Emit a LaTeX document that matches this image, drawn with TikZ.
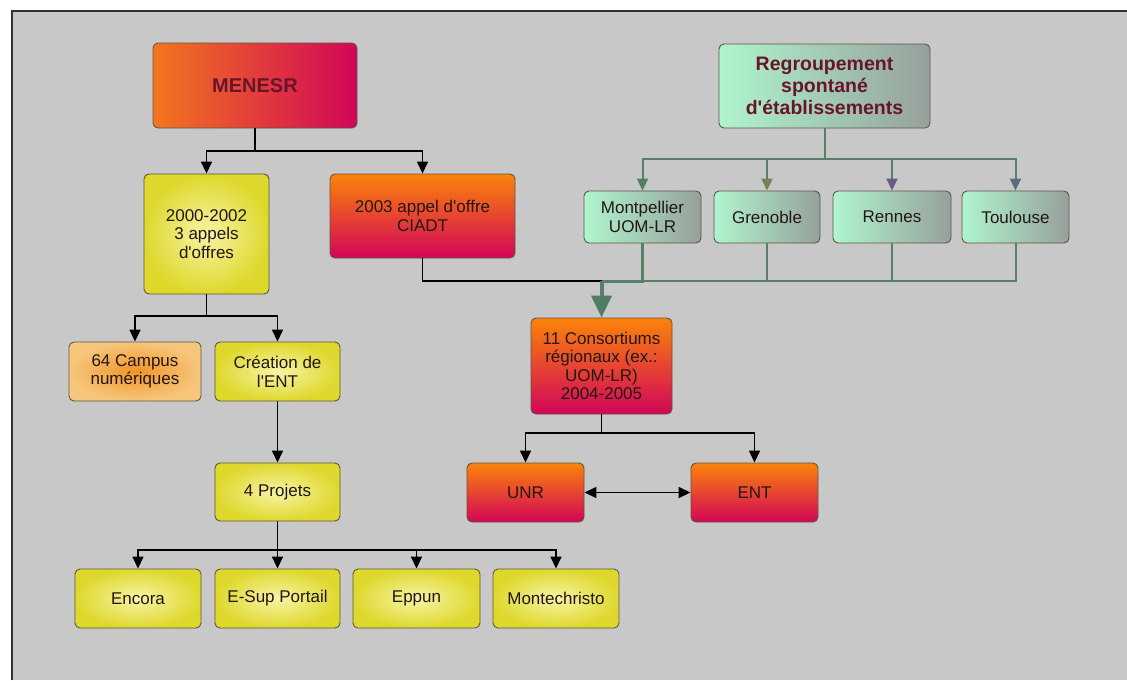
\documentclass[tikz,border=0pt]{standalone}
\usepackage{fontspec}
\setmainfont{Liberation Sans}[Ligatures=TeXOff]
\usetikzlibrary{arrows.meta}
\definecolor{bg}{RGB}{200,200,200}
\definecolor{bord}{RGB}{95,85,65}
\definecolor{txt}{RGB}{35,22,22}
\definecolor{maroon}{RGB}{105,20,45}
\definecolor{orA}{RGB}{250,132,10}
\definecolor{crA}{RGB}{210,5,88}
\definecolor{orL}{RGB}{242,118,30}
\definecolor{yIn}{RGB}{248,244,165}
\definecolor{yOut}{RGB}{222,216,45}
\definecolor{cIn}{RGB}{242,148,35}
\definecolor{cOut}{RGB}{246,198,125}
\definecolor{gL}{RGB}{175,245,205}
\definecolor{gR}{RGB}{150,160,155}
\definecolor{gline}{RGB}{88,128,105}
\definecolor{tipA}{RGB}{80,125,100}
\definecolor{tipB}{RGB}{120,128,90}
\definecolor{tipC}{RGB}{105,90,135}
\definecolor{tipD}{RGB}{90,110,122}
\tikzset{
  box/.style={draw=bord, line width=0.9pt, rounded corners=5pt, align=center, text=txt,
    inner sep=2pt, font=\fontsize{17}{18.5}\selectfont},
  redbox/.style={box, top color=orA, bottom color=crA},
  menbox/.style={box, left color=orL, right color=crA, text=maroon, font=\bfseries\fontsize{20}{22}\selectfont},
  yelbox/.style={box, inner color=yIn, outer color=yOut},
  campbox/.style={box, inner color=cIn, outer color=cOut},
  grnbox/.style={box, left color=gL, right color=gR},
  arr/.style={draw=black, line width=1.5pt, -{Triangle[length=12pt,width=11pt]}},
  plain/.style={draw=black, line width=1.5pt},
  garr/.style={draw=gline, line width=2pt, -{Triangle[length=12pt,width=11pt,color=#1]}},
  gline/.style={draw=gline, line width=2.5pt},
}
\begin{document}
\begin{tikzpicture}[x=1pt,y=-1pt]
\useasboundingbox (0,0) rectangle (1127,680);
\fill[white] (0,0) rectangle (1127,680);
\fill[bg] (12,11) rectangle (1127,680);
\draw[line width=1.6pt, black!80] (12,680) -- (12,11) -- (1127,11);

% nodes
\node[menbox, minimum width=204pt, minimum height=85pt] (menesr) at (255,85.5) {MENESR};
\node[yelbox, minimum width=125pt, minimum height=120pt] (d2000) at (206.5,234) {2000-2002\\3 appels\\d'offres};
\node[redbox, minimum width=185pt, minimum height=84pt] (ciadt) at (422.5,216) {2003 appel d'offre\\CIADT};
\node[grnbox, text=maroon, font=\bfseries\fontsize{19.5}{22}\selectfont, minimum width=211pt, minimum height=84pt] (regroup) at (824.5,86) {Regroupement\\spontané\\d'établissements};
\node[grnbox, minimum width=117pt, minimum height=52pt] (mont) at (642.5,217) {Montpellier\\UOM-LR};
\node[grnbox, minimum width=106pt, minimum height=52pt] (gren) at (767,217) {Grenoble};
\node[grnbox, minimum width=118pt, minimum height=52pt] (rennes) at (892,217) {Rennes};
\node[grnbox, minimum width=107pt, minimum height=52pt] (toul) at (1015.5,217) {Toulouse};
\node[redbox, minimum width=141pt, minimum height=96pt] (cons) at (601.5,366) {11 Consortiums\\régionaux (ex.:\\UOM-LR)\\2004-2005};
\node[campbox, minimum width=132pt, minimum height=59pt] (campus) at (135,371.5) {64 Campus\\numériques};
\node[yelbox, minimum width=125pt, minimum height=59pt] (creation) at (277.5,371.5) {Création de\\l'ENT};
\node[yelbox, minimum width=125pt, minimum height=58pt] (projets) at (277.5,492) {4 Projets};
\node[yelbox, minimum width=126pt, minimum height=59pt] (encora) at (138,598.5) {Encora};
\node[yelbox, minimum width=125pt, minimum height=59pt] (esup) at (277.5,598.5) {E-Sup Portail};
\node[yelbox, minimum width=127pt, minimum height=59pt] (eppun) at (416.5,598.5) {Eppun};
\node[yelbox, minimum width=126pt, minimum height=59pt] (monte) at (556,598.5) {Montechristo};
\node[redbox, minimum width=117pt, minimum height=59pt] (unr) at (525.5,492.5) {UNR};
\node[redbox, minimum width=127pt, minimum height=59pt] (ent) at (754.5,492.5) {ENT};

% junction coordinates
\coordinate (j1) at (255,151);
\coordinate (j2) at (206.5,316);
\coordinate (j3) at (277.5,550);
\coordinate (j4) at (824.5,159);
\coordinate (merge) at (601.5,281);
\coordinate (j5) at (601.5,433);

% MENESR
\draw[plain] (menesr.south) -- (j1);
\draw[arr] (j1) -| (d2000.north);
\draw[arr] (j1) -| (ciadt.north);
% 2000-2002
\draw[plain] (d2000.south) -- (j2);
\draw[arr] (j2) -| (campus.north);
\draw[arr] (j2) -| (creation.north);
\draw[arr] (creation.south) -- (projets.north);
% projets
\draw[plain] (projets.south) -- (j3);
\draw[arr] (j3) -| (encora.north);
\draw[arr] (j3) -| (esup.north);
\draw[arr] (j3) -| (eppun.north);
\draw[arr] (j3) -| (monte.north);
% regroupement
\draw[gline, line width=2pt] (regroup.south) -- (j4);
\draw[garr=tipA] (j4) -| (mont.north);
\draw[garr=tipB] (j4) -| (gren.north);
\draw[garr=tipC] (j4) -| (rennes.north);
\draw[garr=tipD] (j4) -| (toul.north);
% to consortium
\draw[plain] (ciadt.south) |- (merge);
\draw[gline, line width=2pt] (toul.south) |- (merge);
\draw[gline] (rennes.south) |- (merge);
\draw[gline] (gren.south) |- (merge);
\draw[gline, line width=3pt] (mont.south) |- (merge);
\draw[draw=gline, line width=4pt, -{Triangle[length=22pt,width=20pt,color=tipA]}] (merge) -- (cons.north);
% consortium
\draw[plain] (cons.south) -- (j5);
\draw[arr] (j5) -| (unr.north);
\draw[arr] (j5) -| (ent.north);
\draw[draw=black, line width=1.5pt, {Triangle[length=12pt,width=11pt]}-{Triangle[length=12pt,width=11pt]}] (unr.east) -- (ent.west);
\end{tikzpicture}
\end{document}
